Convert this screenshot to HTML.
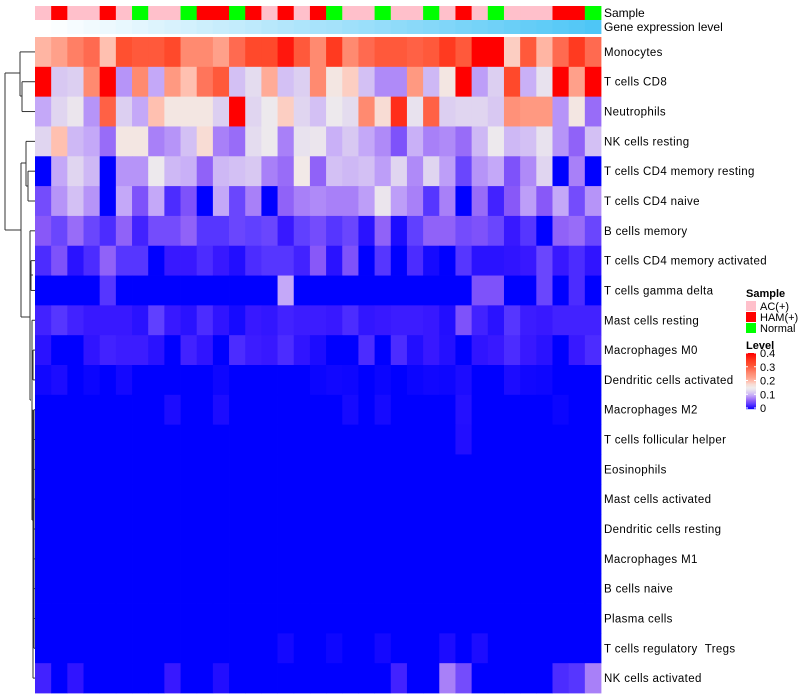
<!DOCTYPE html>
<html><head><meta charset="utf-8"><style>
body{margin:0;background:#fff;}
svg{display:block;font-family:"Liberation Sans",Arial,sans-serif;}
</style></head><body>
<svg id="chart" width="800" height="700" viewBox="0 0 800 700">
<g id="dendro" stroke="#333" stroke-width="1" fill="none"></g>
<g id="annot"></g>
<g id="cells"></g>
<g id="labels" font-size="11.5" letter-spacing="0.35" fill="#000"></g>
<text x="604" y="17" font-size="12">Sample</text>
<text x="604" y="31" font-size="12">Gene expression level</text>
<g id="legend" font-size="11"></g>
</svg>
<script>
const rowNames = ["Monocytes","T cells CD8","Neutrophils","NK cells resting","T cells CD4 memory resting","T cells CD4 naive","B cells memory","T cells CD4 memory activated","T cells gamma delta","Mast cells resting","Macrophages M0","Dendritic cells activated","Macrophages M2","T cells follicular helper","Eosinophils","Mast cells activated","Dendritic cells resting","Macrophages M1","B cells naive","Plasma cells","T cells regulatory \u00a0Tregs","NK cells activated"];
const sampleGroups = ["AC(+)","HAM(+)","Normal"];
const sampleCols = ["P","R","P","P","R","P","G","P","P","G","R","R","G","R","P","R","P","R","G","P","P","G","P","P","G","P","R","P","G","P","P","P","R","R","G"];
const geneLevel = [0,0.02,0.05,0.08,0.1,0.13,0.16,0.19,0.22,0.25,0.28,0.31,0.34,0.37,0.4,0.43,0.46,0.49,0.51,0.54,0.57,0.6,0.63,0.66,0.69,0.72,0.75,0.78,0.81,0.84,0.87,0.9,0.93,0.96,1];
const r1 = [.21,.23,.27,.29,.20,.32,.31,.31,.33,.26,.26,.23,.29,.33,.33,.38,.31,.26,.35,.26,.29,.31,.31,.30,.31,.35,.31,.40,.40,.19,.31,.21,.29,.35,.29];
const r2 = [.40,.12,.125,.26,.40,.09,.26,.10,.24,.20,.28,.31,.115,.135,.22,.115,.125,.26,.165,.19,.115,.085,.085,.24,.11,.165,.40,.095,.125,.33,.105,.14,.40,.23,.40];
const r3 = [.10,.13,.145,.09,.30,.125,.10,.20,.165,.165,.165,.125,.40,.13,.15,.19,.13,.115,.15,.135,.26,.18,.36,.14,.30,.125,.13,.13,.12,.25,.24,.24,.09,.165,.07];
const r4 = [.13,.20,.11,.10,.07,.165,.165,.08,.09,.115,.18,.08,.07,.135,.15,.08,.14,.145,.105,.12,.10,.085,.055,.105,.08,.085,.07,.11,.15,.11,.115,.14,.09,.065,.115];
const r5 = [0,.10,.13,.11,0,.09,.09,.15,.11,.105,.065,.11,.115,.12,.08,.07,.16,.065,.115,.11,.115,.095,.13,.085,.13,.095,.045,.09,.10,.055,.085,.13,0,.08,0];
const r6 = [.05,.09,.115,.09,0,.10,.055,.10,.03,.055,0,.10,.045,.08,0,.065,.08,.085,.08,.08,.095,.145,.095,.08,.035,.08,0,.07,.025,.06,.095,.06,.10,.05,.09];
const r7 = [.06,.045,.07,.045,.03,.065,.025,.05,.05,.065,.035,.035,.045,.04,.045,.02,.04,.05,.035,.045,.015,.065,.01,.04,.065,.065,.05,.055,.045,.02,.035,0,.065,.07,.045];
const r8 = [.03,.055,.015,.03,.065,.035,.035,0,.02,.02,.03,.02,.012,.03,.035,.035,.025,.06,.015,.055,0,.035,0,.03,.008,0,.035,.015,.015,.017,.02,.045,.02,.03,.017];
const r9 = [0,0,0,0,.035,0,0,0,0,0,0,0,0,0,0,.10,0,0,0,0,0,0,0,0,0,0,0,.055,.055,0,0,.045,0,.03,0];
const r10 = [.025,.035,.025,.02,.02,.02,.015,.04,.02,.015,.03,.017,.008,.02,.018,.025,.022,.022,.02,.03,.018,.02,.022,.022,.02,.012,.055,.025,.015,.035,.022,.02,.025,.025,.025];
const r11 = [.015,0,0,.017,.025,.022,.022,.015,0,.025,.017,0,.03,.022,.02,.03,.017,.01,0,0,.03,0,.03,.012,.02,.013,0,.017,.02,.03,.02,.015,0,.02,.03];
const r12 = [.006,.01,0,.004,0,.007,0,0,0,0,0,.005,0,0,0,0,0,.004,.006,.005,0,.004,0,.004,.006,.005,.01,0,0,.01,.006,.005,0,0,0];
const r13 = [0,0,0,0,0,0,0,0,.01,0,0,.01,0,0,0,0,0,0,0,.008,0,.008,0,0,0,0,.013,0,0,0,0,0,.004,0,0];
const r14 = [0,0,0,0,0,0,0,0,0,0,0,0,0,0,0,0,0,0,0,0,0,0,0,0,0,0,.012,0,0,0,0,0,0,0,0];
const r15 = [0,0,0,0,0,0,0,0,0,0,0,0,0,0,0,0,0,0,0,0,0,0,0,0,0,0,0,0,0,0,0,0,0,0,0];
const r16 = [0,0,0,0,0,0,0,0,0,0,0,0,0,0,0,0,0,0,0,0,0,0,0,0,0,0,0,0,0,0,0,0,0,0,0];
const r17 = [0,0,0,0,0,0,0,0,0,0,0,0,0,0,0,0,0,0,0,0,0,0,0,0,0,0,0,0,0,0,0,0,0,0,0];
const r18 = [0,0,0,0,0,0,0,0,0,0,0,0,0,0,0,0,0,0,0,0,0,0,0,0,0,0,0,0,0,0,0,0,0,0,0];
const r19 = [0,0,0,0,0,0,0,0,0,0,0,0,0,0,0,0,0,0,0,0,0,0,0,0,0,0,0,0,0,0,0,0,0,0,0];
const r20 = [0,0,0,0,0,0,0,0,0,0,0,0,0,0,0,0,0,0,0,0,0,0,0,0,0,0,0,0,0,0,0,0,0,0,0];
const r21 = [0,0,0,0,0,0,0,0,0,0,0,0,0,0,0,.007,0,0,.005,0,0,.007,0,0,0,.01,0,.01,0,0,0,0,0,0,0];
const r22 = [.025,0,.017,0,0,0,0,0,.02,0,0,.012,0,0,0,0,0,0,0,0,0,0,.025,0,0,.08,.05,0,0,0,0,0,.03,.035,.08];
const values = [r1,r2,r3,r4,r5,r6,r7,r8,r9,r10,r11,r12,r13,r14,r15,r16,r17,r18,r19,r20,r21,r22];
const levelTicks = ["0","0.1","0.2","0.3","0.4"];

const NS = "http://www.w3.org/2000/svg";
const X0 = 35, X1 = 601, Y0 = 37, Y1 = 693;
const nC = sampleCols.length, nR = rowNames.length;
const cw = (X1 - X0) / nC, rh = (Y1 - Y0) / nR;
const xPos = c => X0 + c * cw;
const yPos = r => Y0 + r * rh;

const stops = [[0,"#0000ff"],[.02,"#3818ff"],[.04,"#6040ff"],[.06,"#8858f8"],[.08,"#a880f8"],[.1,"#c4a8f8"],[.12,"#d8c8f2"],[.14,"#e8e2ee"],[.155,"#f0ecec"],[.18,"#f8dcd4"],[.2,"#ffc0b0"],[.23,"#ffa08a"],[.26,"#ff8a70"],[.29,"#ff6a50"],[.32,"#ff5030"],[.35,"#ff3a20"],[.4,"#ff0000"]];
function hex(h){return [parseInt(h.substr(1,2),16),parseInt(h.substr(3,2),16),parseInt(h.substr(5,2),16)];}
function colorOf(v){
  if(v<=0) return stops[0][1];
  if(v>=0.4) return "#ff0000";
  for(let i=1;i<stops.length;i++){
    if(v<=stops[i][0]){
      const a=stops[i-1], b=stops[i], t=(v-a[0])/(b[0]-a[0]);
      const ca=hex(a[1]), cb=hex(b[1]);
      return "rgb("+ca.map((x,k)=>Math.round(x+(cb[k]-x)*t)).join(",")+")";
    }
  }
  return "#ff0000";
}
function mk(tag, attrs, parent){const e=document.createElementNS(NS,tag);for(const k in attrs)e.setAttribute(k,attrs[k]);parent.appendChild(e);return e;}

const cellsG = document.getElementById("cells");
values.forEach((row, r) => {
  row.forEach((v, c) => {
    const rect = mk("rect",{x:xPos(c),y:yPos(r),width:cw+0.4,height:rh+0.4,fill:colorOf(v)},cellsG);
    
    
  });
});

const annotG = document.getElementById("annot");
const sampleColor = {P:"#ffc0cb",R:"#ff0000",G:"#00ff00"};
sampleCols.forEach((s,c)=>{
  const rect = mk("rect",{x:xPos(c),y:6,width:cw+0.4,height:14,fill:sampleColor[s]},annotG);
  
  
});
geneLevel.forEach((g,c)=>{
  const w=[255,255,255], b=[78,198,246];
  const col = "rgb("+w.map((x,k)=>Math.round(x+(b[k]-x)*g)).join(",")+")";
  const rect = mk("rect",{x:xPos(c),y:20,width:cw+0.4,height:14,fill:col},annotG);
  
  
});

const labG = document.getElementById("labels");
rowNames.forEach((n,r)=>{
  const t = mk("text",{x:604,y:yPos(r)+rh/2+4},labG);
  t.textContent = n;
  
  
});

// dendrogram
const dG = document.getElementById("dendro");
const yc = r => yPos(r) + rh/2;
const segs = [
 [5,73,5,230],[5,73,20,73],[5,230,21,230],
 [20,yc(0),20,96],[20,yc(0),35,yc(0)],[20,96,22,96],[22,yc(1),22,yc(2)],[22,yc(1),35,yc(1)],[22,yc(2),35,yc(2)],
 [21,163,21,317],[21,163,26,163],[26,yc(3),26,186],[26,yc(3),35,yc(3)],[26,186,28,186],[28,yc(4),28,yc(5)],[28,yc(4),35,yc(4)],[28,yc(5),35,yc(5)],
 [21,317,30,317],[30,yc(6),30,400],[30,yc(6),35,yc(6)],[30,400,31,400],
 [31,yc(7),31,yc(8)],[31,yc(7),35,yc(7)],[31,yc(8),35,yc(8)],[31,275,33,275],
 [32,yc(9),32,520],[32,yc(9),35,yc(9)],[33,yc(10),33,yc(11)],[33,yc(10),35,yc(10)],[33,yc(11),35,yc(11)],
 [32,520,33,520],[33,yc(12),33,yc(21)],[33,yc(21),35,yc(21)],
 [34,yc(12),34,yc(20)]
];
segs.forEach(s=>{
  const l = mk("line",{x1:s[0],y1:s[1],x2:s[2],y2:s[3]},dG);
  
  
});
for(let r=12;r<=20;r++){
  const l = mk("line",{x1:34,y1:yc(r),x2:35,y2:yc(r)},dG);
  
  
}

// legend
const lg = document.getElementById("legend");
const t1 = mk("text",{x:746,y:297,"font-weight":"bold"},lg); t1.textContent="Sample";


const grpColors = ["#ffc0cb","#ff0000","#00ff00"];
sampleGroups.forEach((g,i)=>{
  const rc = mk("rect",{x:746,y:301+i*11,width:10,height:10,fill:grpColors[i]},lg);
  
  
  const tx = mk("text",{x:760,y:310+i*11},lg); tx.textContent=g;
  
  
});
const t2 = mk("text",{x:746,y:349,"font-weight":"bold"},lg); t2.textContent="Level";


const barTop = 353, barBot = 409;
const barG = mk("g",{},lg);


for(let i=0;i<56;i++){
  const v = 0.4*(1 - i/56);
  mk("rect",{x:746,y:barTop+i,width:10,height:1.2,fill:colorOf(v)},barG);
}
levelTicks.forEach((t,i)=>{
  const y = barBot - (parseFloat(t)/0.4)*(barBot-barTop-1) - 1;
  mk("line",{x1:746,y1:y,x2:748,y2:y,stroke:"#fff"},barG);
  mk("line",{x1:754,y1:y,x2:756,y2:y,stroke:"#fff"},barG);
  const tx = mk("text",{x:760,y:y+4},lg); tx.textContent=t;
  
  
});
</script>
</body></html>
